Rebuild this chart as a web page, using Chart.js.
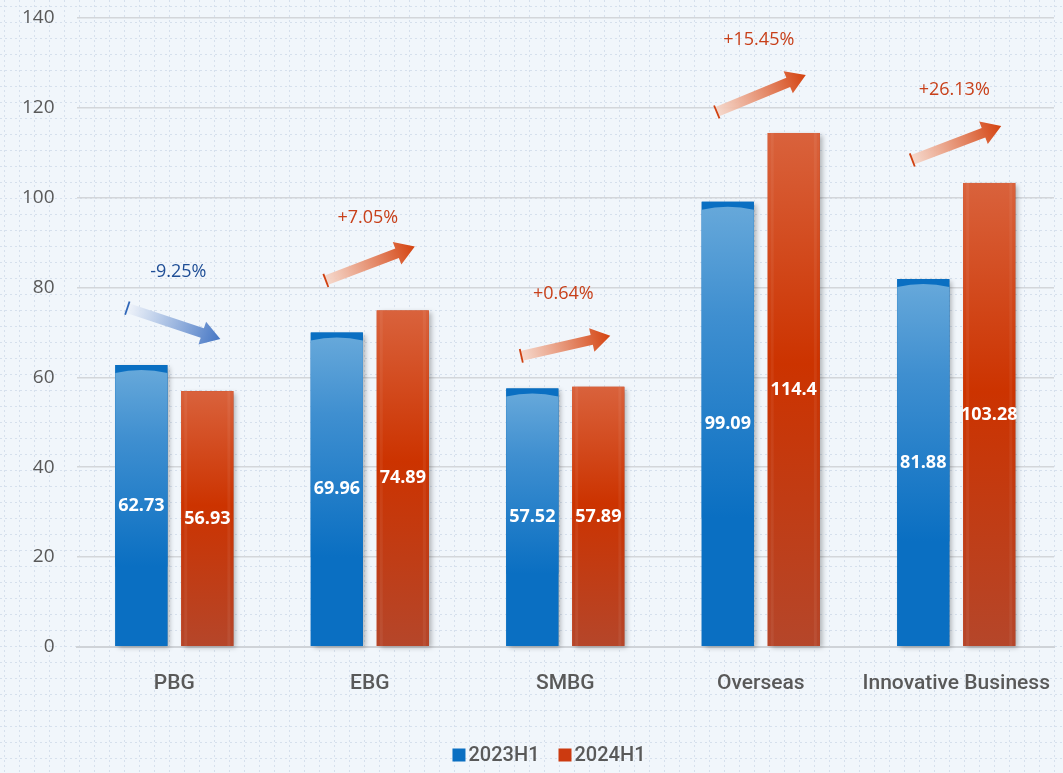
<!DOCTYPE html>
<html><head><meta charset="utf-8">
<script src="https://cdn.jsdelivr.net/npm/chart.js@4"></script>
<style>html,body{margin:0;padding:0;background:#f1f6fb;}#wrap{width:1063px;height:773px;position:relative;}</style>
</head><body><div id="wrap"><canvas id="c" width="1063" height="773"></canvas></div>
<script>
const categories = ["PBG", "EBG", "SMBG", "Overseas", "Innovative Business"];
const series2023 = [62.73, 69.96, 57.52, 99.09, 81.88];
const series2024 = [56.93, 74.89, 57.89, 114.4, 103.28];
const growthLabels = ["-9.25%", "+7.05%", "+0.64%", "+15.45%", "+26.13%"];
const seriesNames = ["2023H1", "2024H1"];
const yTicks = [0, 20, 40, 60, 80, 100, 120, 140];

const bgPlugin = {
  id: 'bg',
  beforeDraw(chart) {
    const ctx = chart.ctx;
    ctx.save();
    ctx.fillStyle = '#f1f6fb';
    ctx.fillRect(0, 0, chart.width, chart.height);
    ctx.strokeStyle = 'rgba(196,210,228,0.6)';
    ctx.lineWidth = 1;
    ctx.setLineDash([2, 3]);
    for (let x = 4.5; x < chart.width; x += 15) {
      ctx.beginPath(); ctx.moveTo(x, 0); ctx.lineTo(x, chart.height); ctx.stroke();
    }
    for (let y = 6.5; y < chart.height; y += 16) {
      ctx.beginPath(); ctx.moveTo(0, y); ctx.lineTo(chart.width, y); ctx.stroke();
    }
    ctx.restore();
  }
};

function drawArrow(ctx, x1, y1, x2, y2, cLight, cDark, tailColor) {
  const dx = x2 - x1, dy = y2 - y1;
  const len = Math.hypot(dx, dy);
  const ux = dx / len, uy = dy / len;
  const nx = -uy, ny = ux;
  const shaftW = 5, headW = 12, headL = 19;
  const bx = x2 - ux * headL, by = y2 - uy * headL;
  const g = ctx.createLinearGradient(x1, y1, x2, y2);
  g.addColorStop(0, cLight);
  g.addColorStop(1, cDark);
  ctx.save();
  ctx.fillStyle = g;
  ctx.beginPath();
  ctx.moveTo(x1 + nx * shaftW, y1 + ny * shaftW);
  ctx.lineTo(bx + nx * shaftW, by + ny * shaftW);
  ctx.lineTo(bx + nx * headW, by + ny * headW);
  ctx.lineTo(x2, y2);
  ctx.lineTo(bx - nx * headW, by - ny * headW);
  ctx.lineTo(bx - nx * shaftW, by - ny * shaftW);
  ctx.lineTo(x1 - nx * shaftW, y1 - ny * shaftW);
  ctx.closePath();
  ctx.fill();
  ctx.strokeStyle = tailColor;
  ctx.lineWidth = 1.8;
  ctx.beginPath();
  ctx.moveTo(x1 + nx * (shaftW + 2), y1 + ny * (shaftW + 2));
  ctx.lineTo(x1 - nx * (shaftW + 2), y1 - ny * (shaftW + 2));
  ctx.stroke();
  ctx.restore();
}

// arrow offsets above the taller bar: [tail, head] in px
const arrowOffsets = [[-57, -26], [-30, -64], [-31, -51], [-21, -58], [-23, -57]];

const overlayPlugin = {
  id: 'overlay',
  afterDatasetsDraw(chart) {
    const ctx = chart.ctx;
    const yScale = chart.scales.y;
    chart.data.datasets.forEach((ds, di) => {
      const meta = chart.getDatasetMeta(di);
      meta.data.forEach((bar) => {
        const left = bar.x - bar.width / 2, w = bar.width;
        const top = bar.y, h = bar.base - bar.y;
        ctx.save();
        ctx.shadowColor = 'rgba(0,0,0,0.28)';
        ctx.shadowBlur = 5;
        ctx.shadowOffsetX = 3;
        ctx.shadowOffsetY = 2;
        if (di === 0) {
          ctx.fillStyle = '#0a6fc2';
          ctx.fillRect(left, top, w, h);
          ctx.shadowColor = 'transparent';
          const bandTop = top + 5;
          const g = ctx.createLinearGradient(0, bandTop, 0, bandTop + h * 0.7);
          g.addColorStop(0, '#66a8da');
          g.addColorStop(0.35, '#3f8fd0');
          g.addColorStop(1, 'rgba(10,111,194,1)');
          ctx.fillStyle = g;
          ctx.beginPath();
          ctx.moveTo(left, bandTop + 3);
          ctx.quadraticCurveTo(left + w / 2, bandTop - 3, left + w, bandTop + 3);
          ctx.lineTo(left + w, bandTop + h * 0.7);
          ctx.lineTo(left, bandTop + h * 0.7);
          ctx.closePath();
          ctx.fill();
        } else {
          const g = ctx.createLinearGradient(0, top, 0, bar.base);
          g.addColorStop(0, '#d9623c');
          g.addColorStop(0.45, '#cc3300');
          g.addColorStop(1, '#b5462a');
          ctx.fillStyle = g;
          ctx.fillRect(left, top, w, h);
          ctx.shadowColor = 'transparent';
          ctx.fillStyle = 'rgba(255,255,255,0.06)';
          ctx.fillRect(left + 3, top, 3, h);
          ctx.fillRect(left + w - 6, top, 3, h);
        }
        ctx.restore();
      });
    });
    // value labels
    ctx.save();
    ctx.font = 'bold 18px "Open Sans", sans-serif';
    ctx.fillStyle = '#ffffff';
    ctx.textAlign = 'center';
    ctx.textBaseline = 'middle';
    chart.data.datasets.forEach((ds, di) => {
      const meta = chart.getDatasetMeta(di);
      meta.data.forEach((bar, i) => {
        ctx.fillText(String(ds.data[i]), bar.x, (bar.y + bar.base) / 2);
      });
    });
    ctx.restore();
    // arrows and growth labels
    const m0 = chart.getDatasetMeta(0), m1 = chart.getDatasetMeta(1);
    categories.forEach((cat, i) => {
      const cx = (m0.data[i].x + m1.data[i].x) / 2;
      const topVal = Math.max(series2023[i], series2024[i]);
      const topY = yScale.getPixelForValue(topVal);
      const down = series2024[i] < series2023[i];
      const [t, hd] = arrowOffsets[i];
      ctx.save();
      ctx.font = '18px "Open Sans", sans-serif';
      ctx.textAlign = 'center';
      ctx.textBaseline = 'middle';
      if (down) {
        drawArrow(ctx, cx - 47, topY + t, cx + 46, topY + hd, 'rgba(240,244,250,0.9)', '#4576c4', '#2f66b8');
        ctx.fillStyle = '#1f4e96';
        ctx.fillText(growthLabels[i], cx + 4, topY - 93);
      } else {
        drawArrow(ctx, cx - 44, topY + t, cx + 45, topY + hd, 'rgba(246,214,200,0.9)', '#d4420f', '#d04010');
        ctx.fillStyle = '#c8401a';
        ctx.fillText(growthLabels[i], cx - 2, topY - 93);
      }
      ctx.restore();
    });
    // custom legend
    ctx.save();
    ctx.font = '500 20px Roboto, sans-serif';
    ctx.textBaseline = 'middle';
    const ly = 755;
    const items = chart.data.datasets.map(ds => ({ label: ds.label, color: ds.backgroundColor }));
    const box = 13, gapBoxText = 3, gapItems = 19;
    let total = 0;
    items.forEach((it, k) => { total += box + gapBoxText + ctx.measureText(it.label).width + (k < items.length - 1 ? gapItems : 0); });
    let x = 549 - total / 2;
    items.forEach((it) => {
      ctx.fillStyle = it.color;
      ctx.fillRect(x, ly - box / 2, box, box);
      x += box + gapBoxText;
      ctx.fillStyle = '#595959';
      ctx.fillText(it.label, x, ly + 1);
      x += ctx.measureText(it.label).width + gapItems;
    });
    ctx.restore();
  }
};

new Chart(document.getElementById('c'), {
  type: 'bar',
  data: {
    labels: categories,
    datasets: [
      { label: seriesNames[0], data: series2023, backgroundColor: '#0a6fc2', borderWidth: 0 },
      { label: seriesNames[1], data: series2024, backgroundColor: '#cc3a10', borderWidth: 0 }
    ]
  },
  options: {
    responsive: false,
    animation: false,
    devicePixelRatio: 1,
    categoryPercentage: 0.675,
    barPercentage: 0.79,
    layout: { padding: { top: 18, right: 9, left: 0, bottom: 61 } },
    scales: {
      x: {
        grid: { display: false },
        border: { color: '#cfd3d8', width: 2 },
        afterFit(axis) { axis.paddingLeft = 0; axis.paddingRight = 0; },
        ticks: { font: { family: 'Roboto', size: 21, weight: '500' }, color: '#595959', padding: 16 }
      },
      y: {
        min: 0, max: 140,
        afterBuildTicks(axis) { axis.ticks = yTicks.map(v => ({ value: v })); },
        afterFit(axis) { axis.paddingTop = 0; axis.paddingBottom = 0; },
        grid: { color: '#d3d6da', lineWidth: 1.5, drawTicks: false },
        border: { display: false },
        ticks: { font: { family: 'Open Sans', size: 19 }, color: '#595959', padding: 22 }
      }
    },
    plugins: {
      legend: { display: false },
      tooltip: { enabled: false }
    }
  },
  plugins: [bgPlugin, overlayPlugin]
});
</script></body></html>
